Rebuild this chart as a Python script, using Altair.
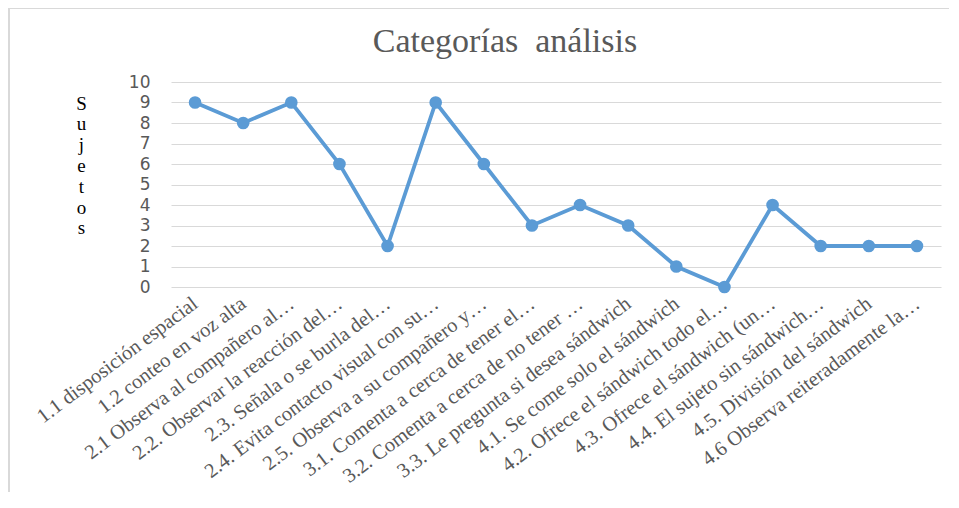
import altair as alt
import pandas as pd

categories = [
    "1.1 disposición espacial",
    "1.2 conteo en voz alta",
    "2.1 Observa al compañero al…",
    "2.2. Observar la reacción del…",
    "2.3. Señala o se burla del…",
    "2.4. Evita contacto visual con su…",
    "2.5. Observa a su compañero y…",
    "3.1. Comenta a cerca de tener el…",
    "3.2. Comenta a cerca de no tener …",
    "3.3. Le pregunta si desea sándwich",
    "4.1. Se come solo el sándwich",
    "4.2. Ofrece el sándwich todo el…",
    "4.3. Ofrece el sándwich (un…",
    "4.4. El sujeto sin sándwich…",
    "4.5. División del sándwich",
    "4.6 Observa reiteradamente la…",
]
values = [9, 8, 9, 6, 2, 9, 6, 3, 4, 3, 1, 0, 4, 2, 2, 2]
y_ticks = list(range(0, 11))
chart_title = "Categorías\u00a0 análisis"

df = pd.DataFrame({"cat": categories, "val": values})
one = pd.DataFrame({"k": [0]})

SERIF = "Liberation Serif"

W, H = 770, 205
PAD_L, PAD_T, PAD_R, PAD_B = 163, 74, 8, 205

x = alt.X("cat:N", sort=categories, title=None,
          scale=alt.Scale(paddingInner=0, paddingOuter=0.5),
          axis=alt.Axis(labelAngle=323, labelAlign="right", labelBaseline="middle",
                        labelFont=SERIF, labelFontSize=20.5,
                        labelColor="#595959", labelPadding=14, labelLimit=400,
                        ticks=False, domain=False, grid=False))
y = alt.Y("val:Q", scale=alt.Scale(domain=[0, 10], nice=False),
          title=["S", "u", "j", "e", "t", "o", "s"],
          axis=alt.Axis(values=y_ticks, ticks=False, domain=False,
                        labelFont="DejaVu Sans", labelFontSize=17, labelColor="#595959",
                        labelPadding=21, gridColor="#d9d9d9", gridWidth=1,
                        titleAngle=0, titleFont=SERIF, titleFontSize=19,
                        titleColor="#000000", titleFontWeight="normal",
                        titleLineHeight=20.8, titleX=-90, titleY=12,
                        titleBaseline="top", titleAlign="center"))

line = alt.Chart(df).mark_line(color="#5B9BD5", strokeWidth=3.8).encode(x=x, y=y)
pts = alt.Chart(df).mark_point(filled=True, color="#5B9BD5", size=160, opacity=1).encode(x=x, y=y)

title_text = alt.Chart(one).mark_text(
    font=SERIF, fontSize=34, color="#595959", align="center",
    baseline="alphabetic").encode(
    x=alt.value(334), y=alt.value(-30), text=alt.value(chart_title))

border_top = alt.Chart(one).mark_rule(color="#d9d9d9", strokeWidth=2).encode(
    x=alt.value(-PAD_L), x2=alt.value(W + PAD_R), y=alt.value(-PAD_T))
border_left = alt.Chart(one).mark_rule(color="#d9d9d9", strokeWidth=2).encode(
    x=alt.value(-PAD_L + 1), y=alt.value(-PAD_T), y2=alt.value(H + PAD_B))

chart = alt.layer(border_top, border_left, title_text, line, pts).properties(
    width=W, height=H,
    autosize=alt.AutoSizeParams(type="none"),
    padding={"left": PAD_L, "top": PAD_T, "right": PAD_R, "bottom": PAD_B},
).configure_view(stroke=None)

chart.save("out.html", embed_options={"renderer": "svg", "actions": False})
